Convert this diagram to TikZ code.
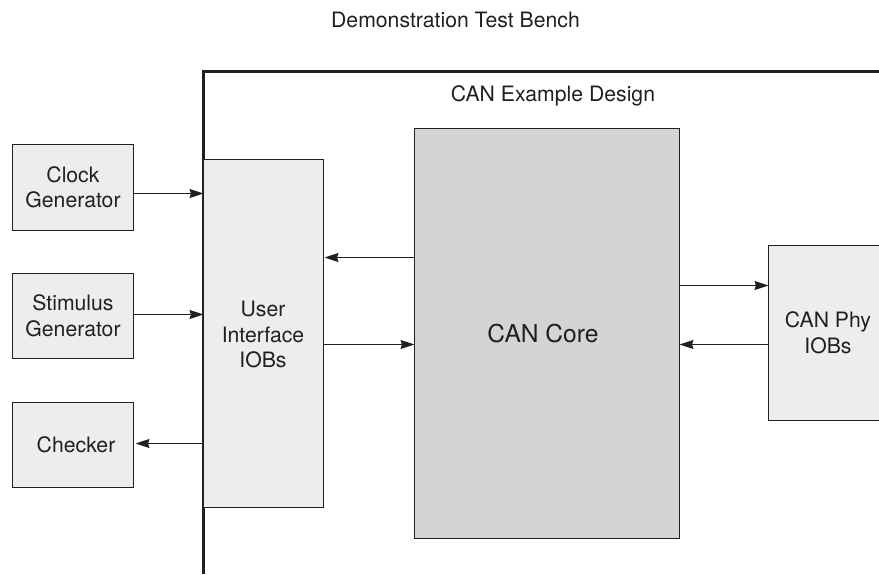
\documentclass[tikz,border=0pt]{standalone}
\usepackage{fontspec}
\setmainfont{TeX Gyre Heros}
\usetikzlibrary{arrows.meta}
\definecolor{ink}{HTML}{231F20}
\definecolor{lightfill}{HTML}{ECEDEE}
\definecolor{corefill}{HTML}{D3D4D6}
\tikzset{
  x=1pt,y=-1pt,
  txt/.style={font=\fontsize{21.2}{25.5}\selectfont,text=ink,align=center,inner sep=0pt},
  blockbox/.style={draw=ink,line width=1pt,fill=lightfill,anchor=north west,inner sep=0pt,outer sep=0pt},
  conn/.style={draw=ink,line width=1pt,-{Stealth[length=14pt,width=9pt,inset=1.5pt]}},
}
\begin{document}
\begin{tikzpicture}
\useasboundingbox (0,0) rectangle (879,574);
\draw[ink,line width=3pt] (203,574) -- (203,71.6) -- (879,71.6);
\node[blockbox,minimum width=121pt,minimum height=86pt] (clock) at (12.5,144.5) {};
\node[blockbox,minimum width=121pt,minimum height=85pt] (stim) at (12.5,273.5) {};
\node[blockbox,minimum width=121pt,minimum height=85pt] (check) at (12.5,402.5) {};
\node[blockbox,minimum width=120pt,minimum height=348pt] (ui) at (203.5,159.5) {};
\node[blockbox,fill=corefill,minimum width=265pt,minimum height=410pt] (core) at (414.5,128.5) {};
\path[fill=lightfill] (768.5,245.5) rectangle (879,420.5);
\draw[ink,line width=1pt] (879,245.5) -- (768.5,245.5) -- (768.5,420.5) -- (879,420.5);
\coordinate (phyw) at (768.5,300);
\node[txt] (tb) at (455.5,20) {Demonstration Test Bench};
\node[txt] (ed) at (553,96) {CAN Example Design};
\node[txt] at (clock.center) {Clock\\Generator};
\node[txt] at (stim.center) {Stimulus\\Generator};
\node[txt] at (76,445) {Checker};
\node[txt] at (263,334.5) {User\\Interface\\IOBs};
\node[txt,font=\fontsize{24.6}{29}\selectfont] at (543,334) {CAN Core};
\node[txt] at (828,333) {CAN Phy\\IOBs};
\draw[conn] (clock.east |- 0,193.5) -- (ui.west |- 0,193.5);
\draw[conn] (stim.east |- 0,314.5) -- (ui.west |- 0,314.5);
\draw[conn,shorten >=2pt] (ui.west |- 0,443.5) -- (check.east |- 0,443.5);
\draw[conn,shorten >=1pt] (core.west |- 0,257.5) -- (ui.east |- 0,257.5);
\draw[conn] (ui.east |- 0,344.5) -- (core.west |- 0,344.5);
\draw[conn] (core.east |- 0,285.5) -- (phyw |- 0,285.5);
\draw[conn] (phyw |- 0,344.5) -- (core.east |- 0,344.5);
\end{tikzpicture}
\end{document}
